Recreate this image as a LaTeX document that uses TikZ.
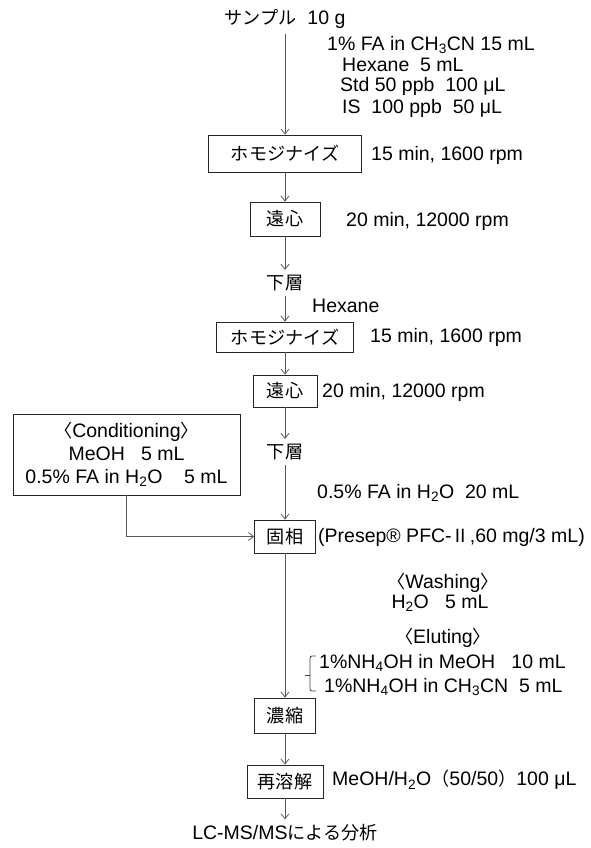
\documentclass[tikz,border=0pt]{standalone}
\usepackage{fontspec}
\setmainfont{Liberation Sans}
\newfontfamily\jp[Scale=0.93]{Noto Sans CJK JP}
\usetikzlibrary{arrows.meta}

\tikzset{
  every node/.style={font=\fontsize{19.5}{23}\selectfont, inner sep=5pt},
  stepbox/.style={draw=black!85, line width=0.8pt, minimum height=33pt, inner sep=2pt},
  flow/.style={draw=black!65, line width=0.8pt, -{Straight Barb[length=5pt,width=8pt]}},
  note/.style={anchor=west, inner sep=0pt}
}

\begin{document}
\begin{tikzpicture}[x=1pt, y=-1pt]
    \useasboundingbox (0,0) rectangle (591,848);

    % Extraction
    \node (sample) at (285,19) {{\jp サンプル}\ \ 10 g};
    \node[note] (r1) at (327,45) {1\% FA in CH\textsubscript{3}CN 15 mL};
    \node[note] (r2) at (342,65) {Hexane\ \ 5 mL};
    \node[note] (r3) at (340,86) {Std 50 ppb\ \ 100 μL};
    \node[note] (r4) at (342,108) {IS\ \ 100 ppb\ \ 50 μL};

    \node[stepbox, minimum width=153pt, minimum height=37pt] (homo1) at (285,153.5) {\jp ホモジナイズ};
    \node[note] (t1) at (371,155) {15 min, 1600 rpm};
    \node[stepbox, minimum width=70pt, minimum height=34pt] (cent1) at (285,219) {\jp 遠心};
    \node[note] (t2) at (346,221) {20 min, 12000 rpm};
    \node (lower1) at (285,283) {\jp 下層};

    % Re-extraction
    \node[note] (hex) at (312,306) {Hexane};
    \node[stepbox, minimum width=137pt, minimum height=30pt] (homo2) at (285,337) {\jp ホモジナイズ};
    \node[note] (t3) at (370,337) {15 min, 1600 rpm};
    \node[stepbox, minimum width=64pt, minimum height=32pt] (cent2) at (285,391) {\jp 遠心};
    \node[note] (t4) at (322,392) {20 min, 12000 rpm};
    \node (lower2) at (285,452) {\jp 下層};

    % Solid phase
    \node[note] (fa) at (317,493) {0.5\% FA in H\textsubscript{2}O\ \ 20 mL};
    \node[stepbox, minimum width=61pt, minimum height=33pt] (spe) at (285,536.5) {\jp 固相};
    \node[note] (presep) at (318,537) {(Presep® PFC-{\jp Ⅱ},60 mg/3 mL)};
    \node[draw=black!85, line width=0.8pt, minimum width=227pt, minimum height=81pt,
          align=center, inner sep=0pt, font=\fontsize{19.5}{23}\selectfont] (condbox) at (126.5,454.5)
          {{\jp 〈}Conditioning{\jp 〉}\\ MeOH\ \ \ 5 mL\\ 0.5\% FA in H\textsubscript{2}O\ \ \ \ 5 mL};

    % Washing / eluting
    \node[inner sep=0pt] (wash) at (443,583) {{\jp 〈}Washing{\jp 〉}};
    \node[inner sep=0pt] (water) at (440,603) {H\textsubscript{2}O\ \ \ 5 mL};
    \node[inner sep=0pt] (elut) at (443,638) {{\jp 〈}Eluting{\jp 〉}};
    \node[note] (e1) at (319,663) {1\%NH\textsubscript{4}OH in MeOH\ \ \ 10 mL};
    \node[note] (e2) at (324,687) {1\%NH\textsubscript{4}OH in CH\textsubscript{3}CN\ \ 5 mL};
    \coordinate (btop) at (316,656);
    \coordinate (bbot) at (316,691);
    \coordinate (btip) at (305,675);
    \draw[black!75, line width=0.8pt, rounded corners=2pt] (btop) -- (310,656) -- (310,691) -- (bbot);
    \draw[black!75, line width=0.8pt] (btip) -- (310,675);

    % Concentration and analysis
    \node[stepbox, minimum width=61pt, minimum height=35pt] (conc) at (285,715.5) {\jp 濃縮};
    \node[stepbox, minimum width=76pt, minimum height=33pt] (redis) at (285,781.5) {\jp 再溶解};
    \node[note] (t5) at (332,780) {MeOH/H\textsubscript{2}O{\jp （}50/50{\jp ）}100 μL};
    \node (final) at (285,833) {LC-MS/MS{\jp による分析}};

    % Connectors
    \draw[flow] (sample) -- (homo1);
    \draw[flow] (homo1) -- (cent1);
    \draw[flow] (cent1) -- (lower1);
    \draw[flow] (lower1) -- (homo2);
    \draw[flow] (homo2) -- (cent2);
    \draw[flow] (cent2) -- (lower2);
    \draw[flow] (lower2) -- (spe);
    \draw[flow] (condbox.south) |- (spe.west);
    \draw[flow] (spe) -- (conc);
    \draw[flow] (conc) -- (redis);
    \draw[flow] (redis) -- (final);
\end{tikzpicture}
\end{document}
